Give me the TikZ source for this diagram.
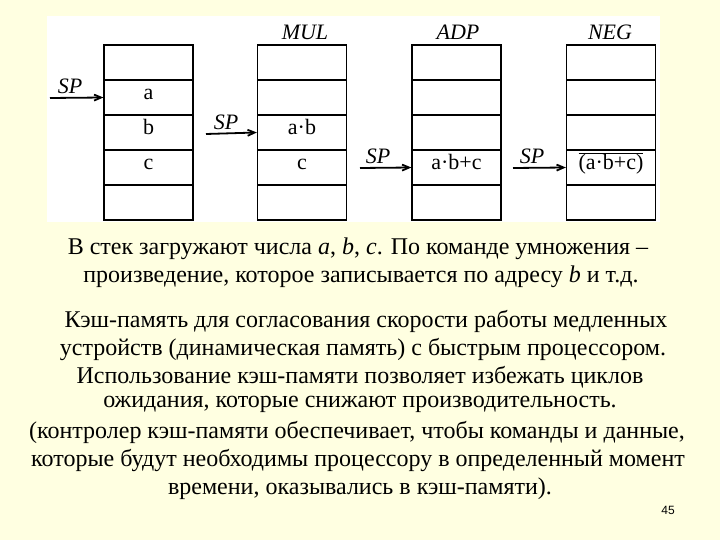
\documentclass[tikz,border=0pt]{standalone}
\usepackage{fontspec}
\setmainfont{Liberation Serif}
\newfontfamily\numfont{Liberation Sans}
\usetikzlibrary{arrows.meta}
\definecolor{bgyellow}{RGB}{255,255,225}
\tikzset{
  cell/.style={draw=black, line width=1.3pt, minimum width=89pt, minimum height=35pt, inner sep=0pt},
  val/.style={font=\fontsize{22}{22}\selectfont, text height=0.7em, text depth=0.2em, inner sep=0pt},
  cmd/.style={font=\fontsize{22}{22}\selectfont\itshape},
  sparrow/.style={line width=1.8pt, -{Straight Barb[length=7pt,width=6pt]}},
  body/.style={font=\fontsize{24}{24}\selectfont, inner sep=0pt}
}
\begin{document}
\begin{tikzpicture}[x=1pt,y=-1pt]
\fill[bgyellow] (0,0) rectangle (720,540);
\useasboundingbox (0,0) rectangle (720,540);
\fill[white] (47,16) rectangle (660,222);
\foreach \i in {0,...,4} {
  \node[cell] (s1r\i) at (148.5,{62.5+35*\i}) {};
  \node[cell] (s2r\i) at (302,{62.5+35*\i}) {};
  \node[cell] (s3r\i) at (456.5,{62.5+35*\i}) {};
  \node[cell] (s4r\i) at (611,{62.5+35*\i}) {};
}
\node[val] at (s1r1) {a};
\node[val] at (s1r2) {b};
\node[val] at (s1r3) {c};
\node[val] at (s2r2) {a·b};
\node[val] at (s2r3) {c};
\node[val] at (s3r3) {a·b+c};
\node[val] at (s4r3) {$\overline{\hbox{(a·b+c)}}$};
\node[cmd] (mul) at (305,32) {MUL};
\node[cmd] (adp) at (458,32) {ADP};
\node[cmd] (neg) at (610,32) {NEG};
\coordinate (a1) at (50,98);
\coordinate (a2) at (206,134);
\coordinate (a3) at (360,168);
\coordinate (a4) at (513,168);
\draw[sparrow] (a1) -- (s1r1.west);
\draw[sparrow] (a2) -- (s2r2.west);
\draw[sparrow] (a3) -- (s3r3.west);
\draw[sparrow] (a4) -- (s4r3.west);
\node[cmd] at (70,86) {SP};
\node[cmd] at (226,122) {SP};
\node[cmd] at (378,156) {SP};
\node[cmd] at (532,156) {SP};
\node[body] (t1) at (358,249) {В стек загружают числа \textit{a}, \textit{b}, \textit{c}. По команде умножения –};
\node[body] (t2) at (361,277) {произведение, которое записывается по адресу \textit{b} и т.д.};
\node[body] (t3) at (366,321) {Кэш-память для согласования скорости работы медленных};
\node[body] (t4) at (363,349) {устройств (динамическая память) с быстрым процессором.};
\node[body] (t5) at (360,377) {Использование кэш-памяти позволяет избежать циклов};
\node[body] (t6) at (360,404) {ожидания, которые снижают производительность.};
\node[body] (t7) at (357,432) {(контролер кэш-памяти обеспечивает, чтобы команды и данные,};
\node[body] (t8) at (358,460) {которые будут необходимы процессору в определенный момент};
\node[body] (t9) at (360,489) {времени, оказывались в кэш-памяти).};
\node[font=\numfont\fontsize{12}{12}\selectfont] (pg) at (668,510) {45};
\end{tikzpicture}
\end{document}
